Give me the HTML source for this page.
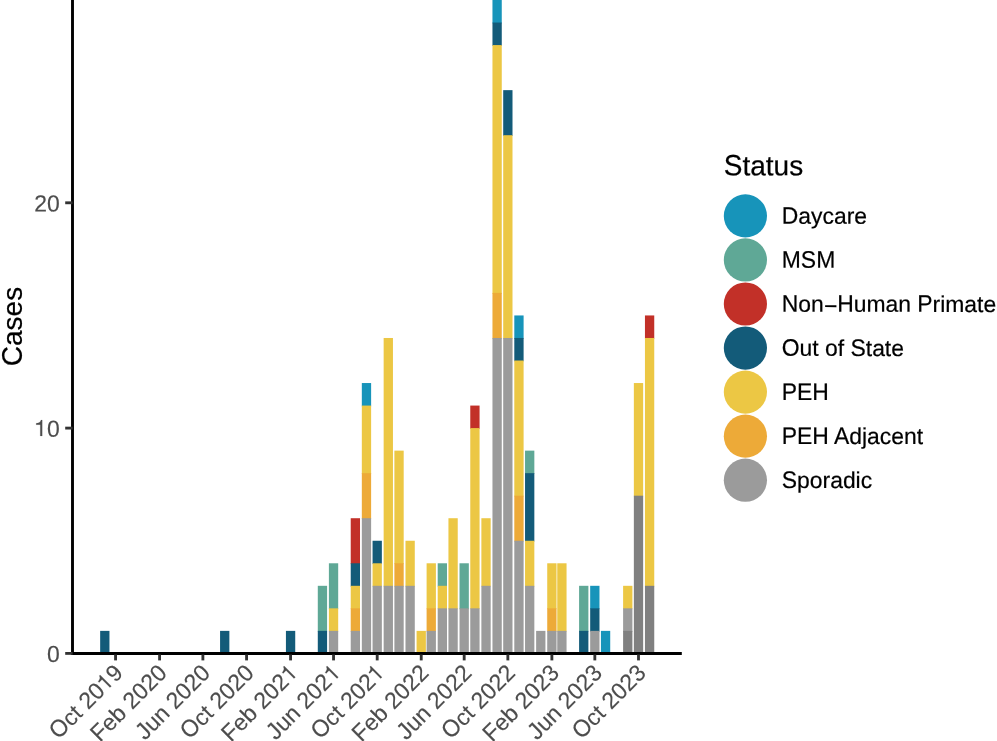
<!DOCTYPE html>
<html><head><meta charset="utf-8"><title>Cases by Status</title>
<style>
html,body{margin:0;padding:0;background:#fff;}
body{width:997px;height:741px;overflow:hidden;}
svg{display:block;will-change:transform;}
text{font-family:"Liberation Sans",sans-serif;}
.tk{font-size:22.9px;fill:#4d4d4d;stroke:#4d4d4d;stroke-width:0.15px;}
.lg{font-size:22.9px;fill:#000;stroke:#000;stroke-width:0.2px;}
.ti{font-size:28.0px;fill:#000;stroke:#000;stroke-width:0.2px;}
</style></head><body>
<svg width="997" height="741" viewBox="0 0 997 741">
<rect x="0" y="0" width="997" height="741" fill="#ffffff"/>
<g>
<rect x="100.16" y="630.87" width="9.30" height="22.53" fill="#135b79"/>
<rect x="220.07" y="630.87" width="9.30" height="22.53" fill="#135b79"/>
<rect x="285.93" y="630.87" width="9.30" height="22.53" fill="#135b79"/>
<rect x="317.79" y="585.81" width="9.30" height="45.86" fill="#5fa896"/>
<rect x="317.79" y="630.87" width="9.30" height="22.53" fill="#135b79"/>
<rect x="328.89" y="563.28" width="9.30" height="45.86" fill="#5fa896"/>
<rect x="328.89" y="608.34" width="9.30" height="23.33" fill="#ecc744"/>
<rect x="328.89" y="630.87" width="9.30" height="22.53" fill="#9b9b9b"/>
<rect x="350.72" y="518.22" width="9.30" height="45.86" fill="#c23028"/>
<rect x="350.72" y="563.28" width="9.30" height="23.33" fill="#135b79"/>
<rect x="350.72" y="585.81" width="9.30" height="23.33" fill="#ecc744"/>
<rect x="350.72" y="608.34" width="9.30" height="23.33" fill="#edaa38"/>
<rect x="350.72" y="630.87" width="9.30" height="22.53" fill="#9b9b9b"/>
<rect x="361.82" y="383.04" width="9.30" height="23.33" fill="#1794ba"/>
<rect x="361.82" y="405.57" width="9.30" height="68.39" fill="#ecc744"/>
<rect x="361.82" y="473.16" width="9.30" height="45.86" fill="#edaa38"/>
<rect x="361.82" y="518.22" width="9.30" height="135.18" fill="#9b9b9b"/>
<rect x="372.55" y="540.75" width="9.30" height="23.33" fill="#135b79"/>
<rect x="372.55" y="563.28" width="9.30" height="23.33" fill="#ecc744"/>
<rect x="372.55" y="585.81" width="9.30" height="67.59" fill="#9b9b9b"/>
<rect x="383.65" y="337.98" width="9.30" height="248.63" fill="#ecc744"/>
<rect x="383.65" y="585.81" width="9.30" height="67.59" fill="#9b9b9b"/>
<rect x="394.39" y="450.63" width="9.30" height="113.45" fill="#ecc744"/>
<rect x="394.39" y="563.28" width="9.30" height="23.33" fill="#edaa38"/>
<rect x="394.39" y="585.81" width="9.30" height="67.59" fill="#9b9b9b"/>
<rect x="405.48" y="540.75" width="9.30" height="45.86" fill="#ecc744"/>
<rect x="405.48" y="585.81" width="9.30" height="67.59" fill="#9b9b9b"/>
<rect x="416.58" y="630.87" width="9.30" height="22.53" fill="#ecc744"/>
<rect x="426.60" y="563.28" width="9.30" height="45.86" fill="#ecc744"/>
<rect x="426.60" y="608.34" width="9.30" height="23.33" fill="#edaa38"/>
<rect x="426.60" y="630.87" width="9.30" height="22.53" fill="#9b9b9b"/>
<rect x="437.70" y="563.28" width="9.30" height="23.33" fill="#5fa896"/>
<rect x="437.70" y="585.81" width="9.30" height="23.33" fill="#ecc744"/>
<rect x="437.70" y="608.34" width="9.30" height="45.06" fill="#9b9b9b"/>
<rect x="448.44" y="518.22" width="9.30" height="90.92" fill="#ecc744"/>
<rect x="448.44" y="608.34" width="9.30" height="45.06" fill="#9b9b9b"/>
<rect x="459.53" y="563.28" width="9.30" height="45.86" fill="#5fa896"/>
<rect x="459.53" y="608.34" width="9.30" height="45.06" fill="#9b9b9b"/>
<rect x="470.27" y="405.57" width="9.30" height="23.33" fill="#c23028"/>
<rect x="470.27" y="428.10" width="9.30" height="181.04" fill="#ecc744"/>
<rect x="470.27" y="608.34" width="9.30" height="45.06" fill="#9b9b9b"/>
<rect x="481.37" y="518.22" width="9.30" height="68.39" fill="#ecc744"/>
<rect x="481.37" y="585.81" width="9.30" height="67.59" fill="#9b9b9b"/>
<rect x="492.46" y="-22.50" width="9.30" height="45.86" fill="#1794ba"/>
<rect x="492.46" y="22.56" width="9.30" height="23.33" fill="#135b79"/>
<rect x="492.46" y="45.09" width="9.30" height="248.63" fill="#ecc744"/>
<rect x="492.46" y="292.92" width="9.30" height="45.86" fill="#edaa38"/>
<rect x="492.46" y="337.98" width="9.30" height="315.42" fill="#9b9b9b"/>
<rect x="503.20" y="90.15" width="9.30" height="45.86" fill="#135b79"/>
<rect x="503.20" y="135.21" width="9.30" height="203.57" fill="#ecc744"/>
<rect x="503.20" y="337.98" width="9.30" height="315.42" fill="#9b9b9b"/>
<rect x="514.30" y="315.45" width="9.30" height="23.33" fill="#1794ba"/>
<rect x="514.30" y="337.98" width="9.30" height="23.33" fill="#135b79"/>
<rect x="514.30" y="360.51" width="9.30" height="135.98" fill="#ecc744"/>
<rect x="514.30" y="495.69" width="9.30" height="45.86" fill="#edaa38"/>
<rect x="514.30" y="540.75" width="9.30" height="112.65" fill="#9b9b9b"/>
<rect x="525.04" y="450.63" width="9.30" height="23.33" fill="#5fa896"/>
<rect x="525.04" y="473.16" width="9.30" height="68.39" fill="#135b79"/>
<rect x="525.04" y="540.75" width="9.30" height="45.86" fill="#ecc744"/>
<rect x="525.04" y="585.81" width="9.30" height="67.59" fill="#9b9b9b"/>
<rect x="536.13" y="630.87" width="9.30" height="22.53" fill="#9b9b9b"/>
<rect x="547.23" y="563.28" width="9.30" height="45.86" fill="#ecc744"/>
<rect x="547.23" y="608.34" width="9.30" height="23.33" fill="#edaa38"/>
<rect x="547.23" y="630.87" width="9.30" height="22.53" fill="#9b9b9b"/>
<rect x="557.25" y="563.28" width="9.30" height="68.39" fill="#ecc744"/>
<rect x="557.25" y="630.87" width="9.30" height="22.53" fill="#9b9b9b"/>
<rect x="579.09" y="585.81" width="9.30" height="45.86" fill="#5fa896"/>
<rect x="579.09" y="630.87" width="9.30" height="22.53" fill="#135b79"/>
<rect x="590.18" y="585.81" width="9.30" height="23.33" fill="#1794ba"/>
<rect x="590.18" y="608.34" width="9.30" height="23.33" fill="#135b79"/>
<rect x="590.18" y="630.87" width="9.30" height="22.53" fill="#9b9b9b"/>
<rect x="600.92" y="630.87" width="9.30" height="22.53" fill="#1794ba"/>
<rect x="623.11" y="585.81" width="9.30" height="23.33" fill="#ecc744"/>
<rect x="623.11" y="608.34" width="9.30" height="23.33" fill="#9b9b9b"/>
<rect x="623.11" y="630.87" width="9.30" height="22.53" fill="#808080"/>
<rect x="633.85" y="383.04" width="9.30" height="113.45" fill="#ecc744"/>
<rect x="633.85" y="495.69" width="9.30" height="157.71" fill="#808080"/>
<rect x="644.95" y="315.45" width="9.30" height="23.33" fill="#c23028"/>
<rect x="644.95" y="337.98" width="9.30" height="248.63" fill="#ecc744"/>
<rect x="644.95" y="585.81" width="9.30" height="67.59" fill="#808080"/>
</g>
<line x1="72.5" y1="-5" x2="72.5" y2="654.9" stroke="#000" stroke-width="2.9"/>
<line x1="71.05" y1="653.45" x2="681.8" y2="653.45" stroke="#000" stroke-width="2.95"/>
<line x1="65.2" y1="653.40" x2="72.6" y2="653.40" stroke="#333" stroke-width="2.85"/>
<g transform="translate(59.7,662.00) rotate(0.03)"><text class="tk" x="-12.73" y="0" transform="scale(1,1.02)" xml:space="preserve">0</text></g>
<line x1="65.2" y1="428.10" x2="72.6" y2="428.10" stroke="#333" stroke-width="2.85"/>
<g transform="translate(59.7,436.70) rotate(0.03)"><path d="M0.380 0 L0.292 0 L0.292 0.508 L0.107 0.508 L0.107 0.571 C0.215 0.575 0.300 0.615 0.325 0.716 L0.380 0.716 Z" fill="#4d4d4d" stroke="#4d4d4d" stroke-width="0.0068" transform="translate(-25.92,-0.70) scale(22.20,-22.20)"/><text class="tk" x="-12.75" y="0" transform="scale(1,1.02)" xml:space="preserve">0</text></g>
<line x1="65.2" y1="202.80" x2="72.6" y2="202.80" stroke="#333" stroke-width="2.85"/>
<g transform="translate(59.7,211.40) rotate(0.03)"><text class="tk" x="-25.47" y="0" transform="scale(1,1.02)" xml:space="preserve">20</text></g>
<line x1="115.55" y1="654.5" x2="115.55" y2="660.4" stroke="#333" stroke-width="2.85"/>
<g transform="translate(124.25,674.3) rotate(-45)"><text class="tk" x="-92.91" y="0" transform="scale(1,1.045)" xml:space="preserve">O</text><text class="tk" x="-75.11" y="0" transform="scale(1,1.0)" xml:space="preserve">ct </text><text class="tk" x="-50.94" y="0" transform="scale(1,1.02)" xml:space="preserve">20</text><path d="M0.380 0 L0.292 0 L0.292 0.508 L0.107 0.508 L0.107 0.571 C0.215 0.575 0.300 0.615 0.325 0.716 L0.380 0.716 Z" fill="#4d4d4d" stroke="#4d4d4d" stroke-width="0.0068" transform="translate(-25.93,-0.70) scale(22.20,-22.20)"/><text class="tk" x="-12.75" y="0" transform="scale(1,1.02)" xml:space="preserve">9</text></g>
<line x1="159.58" y1="654.5" x2="159.58" y2="660.4" stroke="#333" stroke-width="2.85"/>
<g transform="translate(168.28,674.3) rotate(-45)"><text class="tk" x="-96.73" y="0" transform="scale(1,1.045)" xml:space="preserve">F</text><text class="tk" x="-82.77" y="0" transform="scale(1,1.0)" xml:space="preserve">eb </text><text class="tk" x="-50.94" y="0" transform="scale(1,1.02)" xml:space="preserve">2020</text></g>
<line x1="202.89" y1="654.5" x2="202.89" y2="660.4" stroke="#333" stroke-width="2.85"/>
<g transform="translate(211.59,674.3) rotate(-45)"><text class="tk" x="-94.20" y="0" transform="scale(1,1.045)" xml:space="preserve">J</text><text class="tk" x="-82.77" y="0" transform="scale(1,1.0)" xml:space="preserve">un </text><text class="tk" x="-50.94" y="0" transform="scale(1,1.02)" xml:space="preserve">2020</text></g>
<line x1="246.56" y1="654.5" x2="246.56" y2="660.4" stroke="#333" stroke-width="2.85"/>
<g transform="translate(255.26,674.3) rotate(-45)"><text class="tk" x="-92.91" y="0" transform="scale(1,1.045)" xml:space="preserve">O</text><text class="tk" x="-75.11" y="0" transform="scale(1,1.0)" xml:space="preserve">ct </text><text class="tk" x="-50.94" y="0" transform="scale(1,1.02)" xml:space="preserve">2020</text></g>
<line x1="290.58" y1="654.5" x2="290.58" y2="660.4" stroke="#333" stroke-width="2.85"/>
<g transform="translate(299.28,674.3) rotate(-45)"><text class="tk" x="-96.73" y="0" transform="scale(1,1.045)" xml:space="preserve">F</text><text class="tk" x="-82.77" y="0" transform="scale(1,1.0)" xml:space="preserve">eb </text><text class="tk" x="-50.94" y="0" transform="scale(1,1.02)" xml:space="preserve">202</text><path d="M0.380 0 L0.292 0 L0.292 0.508 L0.107 0.508 L0.107 0.571 C0.215 0.575 0.300 0.615 0.325 0.716 L0.380 0.716 Z" fill="#4d4d4d" stroke="#4d4d4d" stroke-width="0.0068" transform="translate(-13.20,-0.70) scale(22.20,-22.20)"/></g>
<line x1="333.54" y1="654.5" x2="333.54" y2="660.4" stroke="#333" stroke-width="2.85"/>
<g transform="translate(342.24,674.3) rotate(-45)"><text class="tk" x="-94.20" y="0" transform="scale(1,1.045)" xml:space="preserve">J</text><text class="tk" x="-82.77" y="0" transform="scale(1,1.0)" xml:space="preserve">un </text><text class="tk" x="-50.94" y="0" transform="scale(1,1.02)" xml:space="preserve">202</text><path d="M0.380 0 L0.292 0 L0.292 0.508 L0.107 0.508 L0.107 0.571 C0.215 0.575 0.300 0.615 0.325 0.716 L0.380 0.716 Z" fill="#4d4d4d" stroke="#4d4d4d" stroke-width="0.0068" transform="translate(-13.20,-0.70) scale(22.20,-22.20)"/></g>
<line x1="377.20" y1="654.5" x2="377.20" y2="660.4" stroke="#333" stroke-width="2.85"/>
<g transform="translate(385.90,674.3) rotate(-45)"><text class="tk" x="-92.91" y="0" transform="scale(1,1.045)" xml:space="preserve">O</text><text class="tk" x="-75.11" y="0" transform="scale(1,1.0)" xml:space="preserve">ct </text><text class="tk" x="-50.94" y="0" transform="scale(1,1.02)" xml:space="preserve">202</text><path d="M0.380 0 L0.292 0 L0.292 0.508 L0.107 0.508 L0.107 0.571 C0.215 0.575 0.300 0.615 0.325 0.716 L0.380 0.716 Z" fill="#4d4d4d" stroke="#4d4d4d" stroke-width="0.0068" transform="translate(-13.20,-0.70) scale(22.20,-22.20)"/></g>
<line x1="421.23" y1="654.5" x2="421.23" y2="660.4" stroke="#333" stroke-width="2.85"/>
<g transform="translate(429.93,674.3) rotate(-45)"><text class="tk" x="-96.73" y="0" transform="scale(1,1.045)" xml:space="preserve">F</text><text class="tk" x="-82.77" y="0" transform="scale(1,1.0)" xml:space="preserve">eb </text><text class="tk" x="-50.94" y="0" transform="scale(1,1.02)" xml:space="preserve">2022</text></g>
<line x1="464.18" y1="654.5" x2="464.18" y2="660.4" stroke="#333" stroke-width="2.85"/>
<g transform="translate(472.88,674.3) rotate(-45)"><text class="tk" x="-94.20" y="0" transform="scale(1,1.045)" xml:space="preserve">J</text><text class="tk" x="-82.77" y="0" transform="scale(1,1.0)" xml:space="preserve">un </text><text class="tk" x="-50.94" y="0" transform="scale(1,1.02)" xml:space="preserve">2022</text></g>
<line x1="507.85" y1="654.5" x2="507.85" y2="660.4" stroke="#333" stroke-width="2.85"/>
<g transform="translate(516.55,674.3) rotate(-45)"><text class="tk" x="-92.91" y="0" transform="scale(1,1.045)" xml:space="preserve">O</text><text class="tk" x="-75.11" y="0" transform="scale(1,1.0)" xml:space="preserve">ct </text><text class="tk" x="-50.94" y="0" transform="scale(1,1.02)" xml:space="preserve">2022</text></g>
<line x1="551.88" y1="654.5" x2="551.88" y2="660.4" stroke="#333" stroke-width="2.85"/>
<g transform="translate(560.58,674.3) rotate(-45)"><text class="tk" x="-96.73" y="0" transform="scale(1,1.045)" xml:space="preserve">F</text><text class="tk" x="-82.77" y="0" transform="scale(1,1.0)" xml:space="preserve">eb </text><text class="tk" x="-50.94" y="0" transform="scale(1,1.02)" xml:space="preserve">2023</text></g>
<line x1="594.83" y1="654.5" x2="594.83" y2="660.4" stroke="#333" stroke-width="2.85"/>
<g transform="translate(603.53,674.3) rotate(-45)"><text class="tk" x="-94.20" y="0" transform="scale(1,1.045)" xml:space="preserve">J</text><text class="tk" x="-82.77" y="0" transform="scale(1,1.0)" xml:space="preserve">un </text><text class="tk" x="-50.94" y="0" transform="scale(1,1.02)" xml:space="preserve">2023</text></g>
<line x1="638.50" y1="654.5" x2="638.50" y2="660.4" stroke="#333" stroke-width="2.85"/>
<g transform="translate(647.20,674.3) rotate(-45)"><text class="tk" x="-92.91" y="0" transform="scale(1,1.045)" xml:space="preserve">O</text><text class="tk" x="-75.11" y="0" transform="scale(1,1.0)" xml:space="preserve">ct </text><text class="tk" x="-50.94" y="0" transform="scale(1,1.02)" xml:space="preserve">2023</text></g>
<g transform="translate(22.1,326.5) rotate(-90)"><text class="ti" x="-39.69" y="0" transform="scale(1,1.045)" xml:space="preserve">C</text><text class="ti" x="-19.47" y="0" transform="scale(1,1.0)" xml:space="preserve">ases</text></g>
<g transform="translate(723.8,175.3) rotate(0.03)"><text class="ti" x="0.00" y="0" transform="scale(1,1.045)" xml:space="preserve">S</text><text class="ti" x="18.67" y="0" transform="scale(1,1.0)" xml:space="preserve">tatus</text></g>
<circle cx="745.4" cy="215.90" r="21.6" fill="#1794ba"/>
<g transform="translate(781.8,223.70) rotate(0.03)"><text class="lg" x="0.00" y="0" transform="scale(1,1.045)" xml:space="preserve">D</text><text class="lg" x="16.52" y="0" transform="scale(1,1.0)" xml:space="preserve">aycare</text></g>
<circle cx="745.4" cy="259.95" r="21.6" fill="#5fa896"/>
<g transform="translate(781.8,267.75) rotate(0.03)"><text class="lg" x="0.00" y="0" transform="scale(1,1.045)" xml:space="preserve">MSM</text></g>
<circle cx="745.4" cy="304.00" r="21.6" fill="#c23028"/>
<g transform="translate(781.8,311.80) rotate(0.03)"><text class="lg" x="0.00" y="0" transform="scale(1,1.045)" xml:space="preserve">N</text><text class="lg" x="16.52" y="0" transform="scale(1,1.0)" xml:space="preserve">on</text><rect x="43.32" y="-6.50" width="11.30" height="1.8" fill="#000"/><text class="lg" x="55.36" y="0" transform="scale(1,1.045)" xml:space="preserve">H</text><text class="lg" x="71.89" y="0" transform="scale(1,1.0)" xml:space="preserve">uman </text><text class="lg" x="135.50" y="0" transform="scale(1,1.045)" xml:space="preserve">P</text><text class="lg" x="150.77" y="0" transform="scale(1,1.0)" xml:space="preserve">rimate</text></g>
<circle cx="745.4" cy="348.05" r="21.6" fill="#135b79"/>
<g transform="translate(781.8,355.85) rotate(0.03)"><text class="lg" x="0.00" y="0" transform="scale(1,1.045)" xml:space="preserve">O</text><text class="lg" x="17.80" y="0" transform="scale(1,1.0)" xml:space="preserve">ut of </text><text class="lg" x="68.70" y="0" transform="scale(1,1.045)" xml:space="preserve">S</text><text class="lg" x="83.97" y="0" transform="scale(1,1.0)" xml:space="preserve">tate</text></g>
<circle cx="745.4" cy="392.10" r="21.6" fill="#ecc744"/>
<g transform="translate(781.8,399.90) rotate(0.03)"><text class="lg" x="0.00" y="0" transform="scale(1,1.045)" xml:space="preserve">PEH</text></g>
<circle cx="745.4" cy="436.15" r="21.6" fill="#edaa38"/>
<g transform="translate(781.8,443.95) rotate(0.03)"><text class="lg" x="0.00" y="0" transform="scale(1,1.045)" xml:space="preserve">PEH</text><text class="lg" x="47.06" y="0" transform="scale(1,1.0)" xml:space="preserve"> </text><text class="lg" x="52.16" y="0" transform="scale(1,1.045)" xml:space="preserve">A</text><text class="lg" x="67.42" y="0" transform="scale(1,1.0)" xml:space="preserve">djacent</text></g>
<circle cx="745.4" cy="480.20" r="21.6" fill="#9b9b9b"/>
<g transform="translate(781.8,488.00) rotate(0.03)"><text class="lg" x="0.00" y="0" transform="scale(1,1.045)" xml:space="preserve">S</text><text class="lg" x="15.27" y="0" transform="scale(1,1.0)" xml:space="preserve">poradic</text></g>
</svg></body></html>
